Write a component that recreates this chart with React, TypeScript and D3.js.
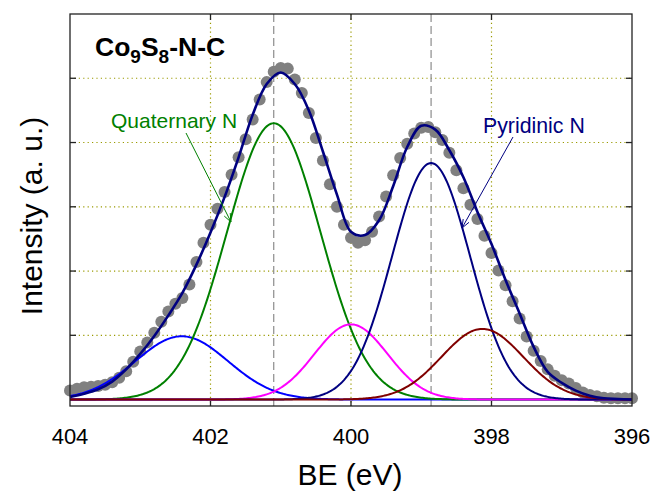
import React from "react";
import * as d3 from "d3";

const W = 654;
const H = 494;

// binding energy axis
const BE_TICKS = [404, 402, 400, 398, 396];
const BE_GRID = [402, 400, 398];
const Y_GRID = [1, 2, 3, 4, 5];
const PEAK_MARKERS = [401.1, 398.86];

// measured spectrum, 404.0 -> 396.0 eV, 0.1 eV step
const DOTS_START = 404;
const DOTS_STEP = -0.1;
const dotValues = [
  0.14, 0.17, 0.19, 0.2, 0.21, 0.23, 0.27, 0.34, 0.44, 0.59,
  0.75, 0.89, 1.04, 1.21, 1.37, 1.49, 1.58, 1.79, 2.14, 2.44,
  2.72, 2.97, 3.23, 3.5, 3.77, 4.05, 4.36, 4.67, 4.94, 5.1,
  5.16, 5.15, 4.98, 4.77, 4.46, 4.07, 3.72, 3.35, 3.0, 2.72,
  2.52, 2.44, 2.48, 2.61, 2.85, 3.16, 3.49, 3.76, 3.98, 4.14,
  4.23, 4.24, 4.16, 4.04, 3.84, 3.57, 3.29, 3.03, 2.81, 2.55,
  2.28, 2.01, 1.78, 1.53, 1.26, 0.98, 0.76, 0.6, 0.47, 0.37,
  0.3, 0.25, 0.18, 0.11, 0.07, 0.05, 0.03, 0.02, 0.02, 0.02,
  0.02,
];

// fitted envelope, 404.0 -> 396.0 eV, 0.2 eV step
const ENV_STEP = -0.2;
const envelopeValues = [
  0.04, 0.09, 0.16, 0.28, 0.47, 0.71, 0.99, 1.31, 1.66, 2.1,
  2.6, 3.15, 3.77, 4.43, 4.91, 5.09, 4.91, 4.5, 3.86, 3.19,
  2.61, 2.56, 2.79, 3.32, 3.93, 4.26, 4.2, 3.88, 3.46, 2.92,
  2.42, 1.86, 1.34, 0.82, 0.43, 0.26, 0.14, 0.06, 0.02, 0.01,
  0.0,
];

// fitted components (gaussian): centre eV, height, sigma eV
const compNames = ["blue", "quaternary", "magenta", "pyridinic", "red"];
const compCenters = [402.41, 401.1, 400.0, 398.86, 398.13];
const compHeights = [0.985, 4.3, 1.17, 3.68, 1.1];
const compSigmas = [0.66, 0.665, 0.52, 0.555, 0.58];
const compColors = ["#0000ff", "#008000", "#ff00ff", "#000080", "#800000"];

const FONT = "'Liberation Sans', Arial, Helvetica, sans-serif";

const x = d3.scaleLinear().domain([404, 396]).range([70, 632]);
const y = d3.scaleLinear().domain([-0.1, 6]).range([406, 14]);

const arrowHead = (x1: number, y1: number, x2: number, y2: number) => {
  const a = Math.atan2(y2 - y1, x2 - x1);
  const len = 9;
  const spread = 0.38;
  const p1 = [x2 - len * Math.cos(a - spread), y2 - len * Math.sin(a - spread)];
  const p2 = [x2 - len * Math.cos(a + spread), y2 - len * Math.sin(a + spread)];
  return `M${p1[0]},${p1[1]}L${x2},${y2}L${p2[0]},${p2[1]}`;
};

const App = () => {
  const line = d3
    .line<[number, number]>()
    .x((d) => x(d[0]))
    .y((d) => y(d[1]));

  const envLine = d3
    .line<number>()
    .x((_, i) => x(DOTS_START + i * ENV_STEP))
    .y((d) => y(d))
    .curve(d3.curveCatmullRom);

  const xs = d3.range(0, 401).map((i) => 404 - i * 0.02);

  const components = compNames.map((name, k) => {
    const pts = xs.map(
      (e) =>
        [
          e,
          compHeights[k] *
            Math.exp(-((e - compCenters[k]) ** 2) / (2 * compSigmas[k] ** 2)),
        ] as [number, number]
    );
    return { name, color: compColors[k], d: line(pts) as string };
  });

  const [x0, x1] = x.range();
  const [yb, yt] = y.range();

  const q = { x1: 186, y1: 133, x2: 231, y2: 222 };
  const p = { x1: 513, y1: 137, x2: 462, y2: 228 };

  return (
    <svg
      width={W}
      height={H}
      style={{ position: "absolute", left: 0, top: 0, background: "#fff" }}
      fontFamily={FONT}
    >
      {/* grid */}
      <g stroke="#9a9a00" strokeWidth={1.2} strokeDasharray="1.2,3.2">
        {Y_GRID.map((v) => (
          <line key={"gy" + v} x1={x0} x2={x1} y1={y(v)} y2={y(v)} />
        ))}
        {BE_GRID.map((v) => (
          <line key={"gx" + v} x1={x(v)} x2={x(v)} y1={yt} y2={yb} />
        ))}
      </g>
      <g stroke="#8c8c8c" strokeWidth={1.2} strokeDasharray="8,4">
        {PEAK_MARKERS.map((v) => (
          <line key={"pm" + v} x1={x(v)} x2={x(v)} y1={yt} y2={yb} />
        ))}
      </g>

      {/* data points */}
      <g fill="#808080">
        {dotValues.map((v, i) => (
          <circle key={i} cx={x(DOTS_START + i * DOTS_STEP)} cy={y(v)} r={6} />
        ))}
      </g>

      {/* components */}
      <g fill="none" strokeWidth={2}>
        {components.map((c) => (
          <path key={c.name} d={c.d} stroke={c.color} />
        ))}
      </g>

      {/* envelope */}
      <path
        d={envLine(envelopeValues) as string}
        fill="none"
        stroke="#000080"
        strokeWidth={2.6}
      />

      {/* frame */}
      <rect
        x={x0}
        y={yt}
        width={x1 - x0}
        height={yb - yt}
        fill="none"
        stroke="#222"
        strokeWidth={1.3}
      />
      <g stroke="#222" strokeWidth={1.3}>
        {Y_GRID.map((v) => (
          <g key={"ty" + v}>
            <line x1={x0} x2={x0 + 6} y1={y(v)} y2={y(v)} />
            <line x1={x1} x2={x1 - 6} y1={y(v)} y2={y(v)} />
          </g>
        ))}
        {BE_GRID.map((v) => (
          <g key={"tx" + v}>
            <line x1={x(v)} x2={x(v)} y1={yt} y2={yt + 6} />
            <line x1={x(v)} x2={x(v)} y1={yb} y2={yb - 5} />
          </g>
        ))}
      </g>

      {/* tick labels */}
      <g fontSize={22} textAnchor="middle" fill="#000">
        {BE_TICKS.map((v) => (
          <text key={"l" + v} x={x(v)} y={444}>
            {v}
          </text>
        ))}
      </g>

      {/* axis titles */}
      <text x={350} y={485} fontSize={30} textAnchor="middle">
        BE (eV)
      </text>
      <text
        transform={`translate(42,${(yt + yb) / 2 + 6}) rotate(-90)`}
        fontSize={30}
        textAnchor="middle"
      >
        Intensity (a. u.)
      </text>

      {/* sample label */}
      <text x={95} y={56} fontSize={26.5} fontWeight="bold">
        Co
        <tspan fontSize={19} dy={7}>
          9
        </tspan>
        <tspan dy={-7}>S</tspan>
        <tspan fontSize={19} dy={7}>
          8
        </tspan>
        <tspan dy={-7}>-N-C</tspan>
      </text>

      {/* annotations */}
      <text x={111} y={128} fontSize={21} fill="#008000">
        Quaternary N
      </text>
      <g stroke="#008000" strokeWidth={1} fill="none">
        <line x1={q.x1} y1={q.y1} x2={q.x2} y2={q.y2} />
        <path d={arrowHead(q.x1, q.y1, q.x2, q.y2)} />
      </g>
      <text x={483} y={133} fontSize={21.3} fill="#000080">
        Pyridinic N
      </text>
      <g stroke="#000080" strokeWidth={1} fill="none">
        <line x1={p.x1} y1={p.y1} x2={p.x2} y2={p.y2} />
        <path d={arrowHead(p.x1, p.y1, p.x2, p.y2)} />
      </g>
    </svg>
  );
};

export default App;
